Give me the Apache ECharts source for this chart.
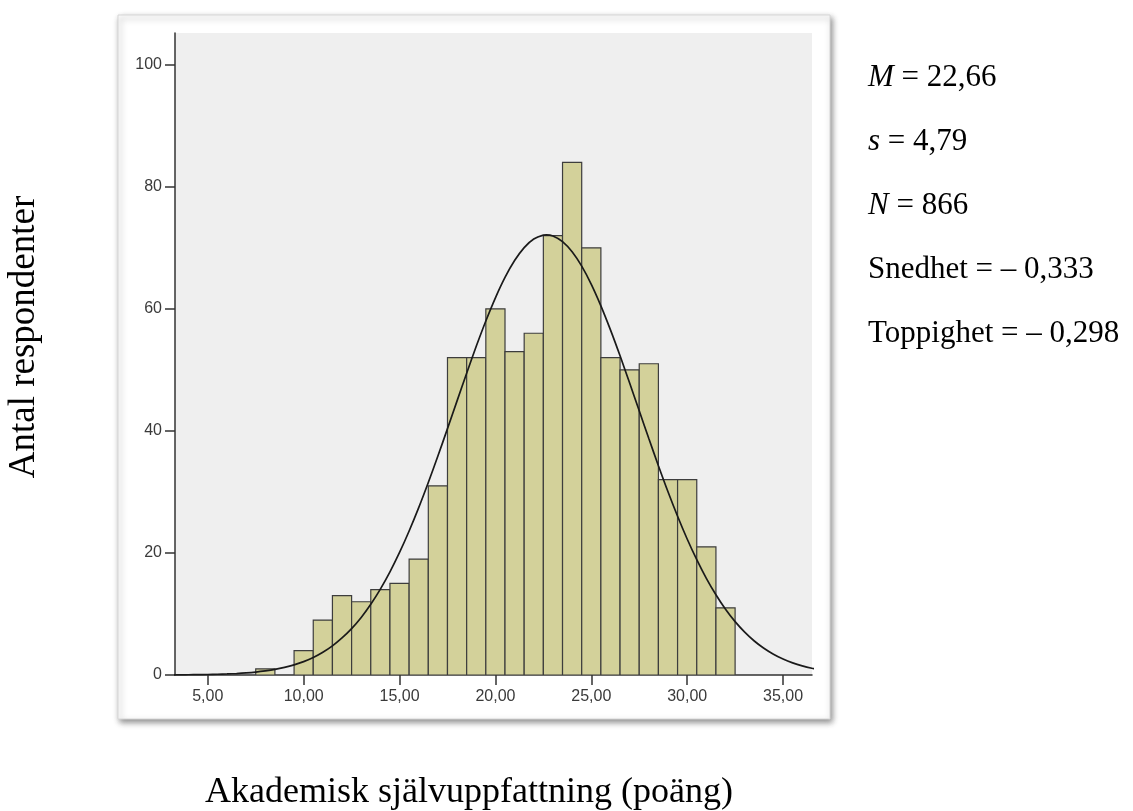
<!DOCTYPE html>
<html>
<head>
<meta charset="utf-8">
<title>Akademisk självuppfattning</title>
<script src="https://cdn.jsdelivr.net/npm/echarts@6/dist/echarts.min.js"></script>
<style>
    html, body { margin: 0; padding: 0; background: #fff; }
    #chart { width: 1133px; height: 811px; }
</style>
</head>
<body>
<div id="chart"></div>
<script>
// poäng (mitten av varje stapel) och antal respondenter
const scores = [8, 10, 11, 12, 13, 14, 15, 16, 17, 18, 19, 20, 21, 22, 23, 24, 25, 26, 27, 28, 29, 30, 31, 32]
const counts = [1, 4, 9, 13, 12, 14, 15, 19, 31, 52, 52, 60, 53, 56, 72, 84, 70, 52, 50, 51, 32, 32, 21, 11]
const binWidth = 1

// normalkurvan, avläst i bilden
const curveX = [3, 3.5, 4, 4.5, 5, 5.5, 6, 6.5, 7, 7.5, 8, 8.5, 9, 9.5, 10, 10.5, 11, 11.5, 12, 12.5,
    13, 13.5, 14, 14.5, 15, 15.5, 16, 16.5, 17, 17.5, 18, 18.5, 19, 19.5, 20, 20.5, 21, 21.5, 22, 22.5, 22.66,
    23, 23.5, 24, 24.5, 25, 25.5, 26, 26.5, 27, 27.5, 28, 28.5, 29, 29.5, 30, 30.5, 31, 31.5, 32, 32.5,
    33, 33.5, 34, 34.5, 35, 35.5, 36, 36.5, 37]
const curveY = [0.02, 0.02, 0.04, 0.06, 0.08, 0.12, 0.17, 0.24, 0.34, 0.48, 0.67, 0.91, 1.24, 1.66, 2.19, 2.87, 3.73, 4.78, 6.07, 7.6,
    9.43, 11.59, 14.07, 16.9, 20.08, 23.6, 27.43, 31.55, 35.88, 40.37, 44.92, 49.46, 53.86, 58.01, 61.81, 65.15, 67.91, 70.04, 71.44, 72.08, 72.12,
    71.94, 71.02, 69.35, 66.99, 64.01, 60.49, 56.55, 52.3, 47.84, 43.29, 38.74, 34.3, 30.03, 26.02, 22.29, 18.9, 15.84, 13.14, 10.77, 8.74,
    7.02, 5.57, 4.38, 3.4, 2.61, 1.98, 1.49, 1.11, 0.82]

const xTicks = [5, 10, 15, 20, 25, 30, 35]
const yTicks = [0, 20, 40, 60, 80, 100]

const stats = [
    '{i|M} = 22,66',
    '{i|s} = 4,79',
    '{i|N} = 866',
    'Snedhet = – 0,333',
    'Toppighet = – 0,298'
]

const serif = '"Liberation Serif", "Times New Roman", serif'
const sans = '"Liberation Sans", Arial, sans-serif'

const myChart = echarts.init(document.getElementById('chart'))

myChart.setOption({
    animation: false,
    graphic: [
        {
            type: 'rect',
            z: -10,
            shape: { x: 118, y: 15, width: 712, height: 704 },
            style: {
                fill: '#fff',
                stroke: '#d6d6d6',
                lineWidth: 1,
                shadowBlur: 6,
                shadowOffsetX: 2,
                shadowOffsetY: 3,
                shadowColor: 'rgba(0,0,0,0.45)'
            }
        },
        {
            type: 'text',
            x: 24,
            y: 337,
            rotation: Math.PI / 2,
            style: {
                text: 'Antal respondenter',
                font: '37px ' + serif,
                fill: '#000',
                align: 'center',
                verticalAlign: 'middle'
            }
        },
        {
            type: 'text',
            x: 469,
            y: 793,
            style: {
                text: 'Akademisk självuppfattning (poäng)',
                font: '36px ' + serif,
                fill: '#000',
                align: 'center',
                verticalAlign: 'middle'
            }
        }
    ].concat(stats.map((t, i) => {
        return {
            type: 'text',
            x: 868,
            y: 78 + i * 64,
            style: {
                text: t,
                fontFamily: serif,
                fontSize: 31,
                fill: '#000',
                align: 'left',
                verticalAlign: 'middle',
                rich: {
                    i: { fontFamily: serif, fontSize: 31, fontStyle: 'italic', fill: '#000' }
                }
            }
        }
    })),
    grid: {
        left: 175,
        top: 33,
        right: 321,
        bottom: 136,
        show: true,
        backgroundColor: '#efefef',
        borderWidth: 0
    },
    xAxis: {
        type: 'value',
        min: 3.29,
        max: 36.51,
        splitLine: { show: false },
        axisLine: { show: true, onZero: false, lineStyle: { color: '#333', width: 1.5 } },
        axisTick: { show: true, length: 10, customValues: xTicks, lineStyle: { color: '#333', width: 1.5 } },
        axisLabel: {
            customValues: xTicks,
            margin: 14,
            fontFamily: sans,
            fontSize: 16,
            color: '#3a3a3a',
            formatter: v => v.toFixed(2).replace('.', ',')
        }
    },
    yAxis: {
        type: 'value',
        min: 0,
        max: 105.2,
        splitLine: { show: false },
        axisLine: { show: true, lineStyle: { color: '#333', width: 1.5 } },
        axisTick: { show: true, length: 10, customValues: yTicks, lineStyle: { color: '#333', width: 1.5 } },
        axisLabel: {
            customValues: yTicks,
            margin: 13,
            fontFamily: sans,
            fontSize: 16,
            color: '#3a3a3a'
        }
    },
    series: [
        {
            type: 'custom',
            clip: true,
            data: scores.map((s, i) => [s, counts[i]]),
            renderItem: (params, api) => {
                const x = api.value(0)
                const y = api.value(1)
                const p0 = api.coord([x - binWidth / 2, y])
                const p1 = api.coord([x + binWidth / 2, 0])
                return {
                    type: 'rect',
                    shape: { x: p0[0], y: p0[1], width: p1[0] - p0[0], height: p1[1] - p0[1] },
                    style: { fill: '#d3d19a', stroke: '#3d3d3d', lineWidth: 1.2 }
                }
            }
        },
        {
            type: 'line',
            smooth: 0.3,
            symbol: 'none',
            clip: true,
            data: curveX.map((x, i) => [x, curveY[i]]),
            lineStyle: { color: '#1a1a1a', width: 1.7 },
            z: 5
        }
    ]
})
</script>
</body>
</html>
